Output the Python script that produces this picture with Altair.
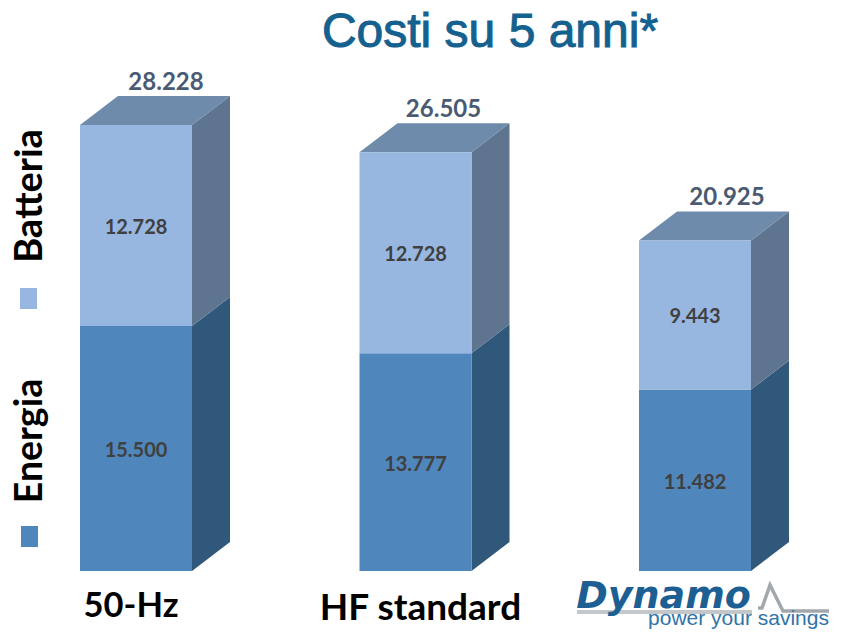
import altair as alt
import pandas as pd

categories = ["50-Hz", "HF standard", ""]
energia = [15500, 13777, 11482]
batteria = [12728, 12728, 9443]
totale = [28228, 26505, 20925]
legend_names = ["Batteria", "Energia"]
title_text = "Costi su 5 anni*"
logo_name = "Dynamo"
logo_tag = "power your savings"


def lab(v):
    return f"{v:,}".replace(",", ".")


PX_X = 279.5
PX_Y = 0.0158
W, H = 826, 621
BASE = 563


def xd(page_px):
    return (page_px - 8 - 72) / PX_X


def yd(page_px):
    return (BASE - (page_px - 8)) / PX_Y


BW = 112 / PX_X
DX = 38 / PX_X
DY = 29 / PX_Y

x_s = alt.Scale(domain=[xd(8), xd(8 + W)], range=[0, W], nice=False, zero=False)
y_s = alt.Scale(domain=[yd(8 + H), yd(8)], range=[H, 0], nice=False, zero=False)
X = alt.X("x:Q", scale=x_s, axis=None)
Y = alt.Y("y:Q", scale=y_s, axis=None, stack=None)

C_LIGHT, C_DARK = "#97b7e0", "#4f86bb"
C_SIDE_L, C_SIDE_D, C_TOP = "#5f758f", "#30587a", "#6f8bab"

total_dx = [86, 84, 88]
cat_dx = [51, 61]
cat_dy = [-34, -36]
cat_size = [34.5, 37]

front, side_l, side_d, top, inner, total_lab, cat_lab = [], [], [], [], [], [], []
for i, (e, b, t) in enumerate(zip(energia, batteria, totale)):
    L, R = float(i), i + BW
    front += [
        dict(x=L, x2=R, y=0, y2=e, c=C_DARK),
        dict(x=L, x2=R, y=e, y2=t, c=C_LIGHT),
    ]
    side_d += [
        dict(x=R, y=0, y2=e, p=i),
        dict(x=R + DX, y=DY, y2=e + DY, p=i),
    ]
    side_l += [
        dict(x=R, y=e, y2=t, p=i),
        dict(x=R + DX, y=e + DY, y2=t + DY, p=i),
    ]
    top += [
        dict(x=L, y=t, y2=t, p=i),
        dict(x=L + DX, y=t, y2=t + DY, p=i),
        dict(x=R, y=t, y2=t + DY, p=i),
        dict(x=R + DX, y=t + DY, y2=t + DY, p=i),
    ]
    inner += [
        dict(x=L + BW / 2, y=e / 2, t=lab(e)),
        dict(x=L + BW / 2, y=e + b / 2, t=lab(b)),
    ]
    total_lab.append(dict(x=L + total_dx[i] / PX_X, y=t + 42 / PX_Y, t=lab(t)))
    if categories[i]:
        cat_lab.append(dict(x=L + cat_dx[i] / PX_X, y=cat_dy[i] / PX_Y, t=categories[i], s=cat_size[i]))


def area(rows, color):
    return alt.Chart(pd.DataFrame(rows)).mark_area(color=color, interpolate="linear", opacity=1).encode(
        x=X, y=Y, y2="y2:Q", detail="p:N"
    )


def text_at(page_x, page_y, s, **kw):
    df = pd.DataFrame([dict(x=xd(page_x), y=yd(page_y), t=s)])
    return alt.Chart(df).mark_text(**kw).encode(x=X, y=Y, text="t:N")


def square(x0, x1, y0, y1, color):
    df = pd.DataFrame([dict(x=xd(x0), x2=xd(x1), y=yd(y1), y2=yd(y0))])
    return alt.Chart(df).mark_rect(color=color).encode(x=X, x2="x2:Q", y=Y, y2="y2:Q")


def polyline(pts, color, width):
    df = pd.DataFrame([dict(x=xd(a), y=yd(b), o=i) for i, (a, b) in enumerate(pts)])
    return alt.Chart(df).mark_line(color=color, strokeWidth=width).encode(x=X, y=Y, order="o:Q")


bars = alt.Chart(pd.DataFrame(front)).mark_rect().encode(
    x=X, x2="x2:Q", y=Y, y2="y2:Q", color=alt.Color("c:N", scale=None)
)
inner_t = alt.Chart(pd.DataFrame(inner)).mark_text(
    font="Lato", fontWeight="bold", fontSize=20, color="#404040", dy=2.5
).encode(x=X, y=Y, text="t:N")
total_t = alt.Chart(pd.DataFrame(total_lab)).mark_text(
    font="Lato", fontWeight="bold", fontSize=24, color="#4a5a72"
).encode(x=X, y=Y, text="t:N")
cat_t = alt.Chart(pd.DataFrame(cat_lab)).mark_text(
    font="Lato", fontWeight="bold", color="#000000", dy=2
).encode(x=X, y=Y, text="t:N", size=alt.Size("s:Q", scale=None, legend=None))

pulse_pts = [(758, 608), (762, 608), (770, 585), (783, 611), (829, 611)]
shadow_pts = [(577, 612), (752, 612)]

layers = [
    area(side_d, C_SIDE_D), area(side_l, C_SIDE_L), area(top, C_TOP), bars,
    inner_t, total_t, cat_t,
    text_at(490, 33, title_text, font="Liberation Sans", fontSize=48, color="#14618f",
            stroke="#14618f", strokeWidth=1),
    square(20, 37, 288, 309, C_LIGHT),
    square(21, 38, 526, 547, C_DARK),
    text_at(31, 196, legend_names[0], font="Lato", fontWeight="bold", fontSize=38, angle=270, color="#000000"),
    text_at(31, 441, legend_names[1], font="Lato", fontWeight="bold", fontSize=37.5, angle=270, color="#000000"),
    polyline(pulse_pts, "#a3a8ac", 3.5),
    polyline(shadow_pts, "#c3c7ca", 4),
    text_at(663.5, 597, logo_name, font="DejaVu Sans", fontWeight="bold", fontStyle="italic", fontSize=38,
            color="#1d5f92"),
    text_at(738.5, 619, logo_tag, font="Liberation Sans", fontSize=21, color="#2f74a8"),
]

chart = alt.layer(*layers).properties(
    width=W, height=H, padding=0, autosize=alt.AutoSizeParams(type="none"), background="#ffffff"
).configure_view(stroke=None)

chart.save("out.html", embed_options={"renderer": "svg", "actions": False})
